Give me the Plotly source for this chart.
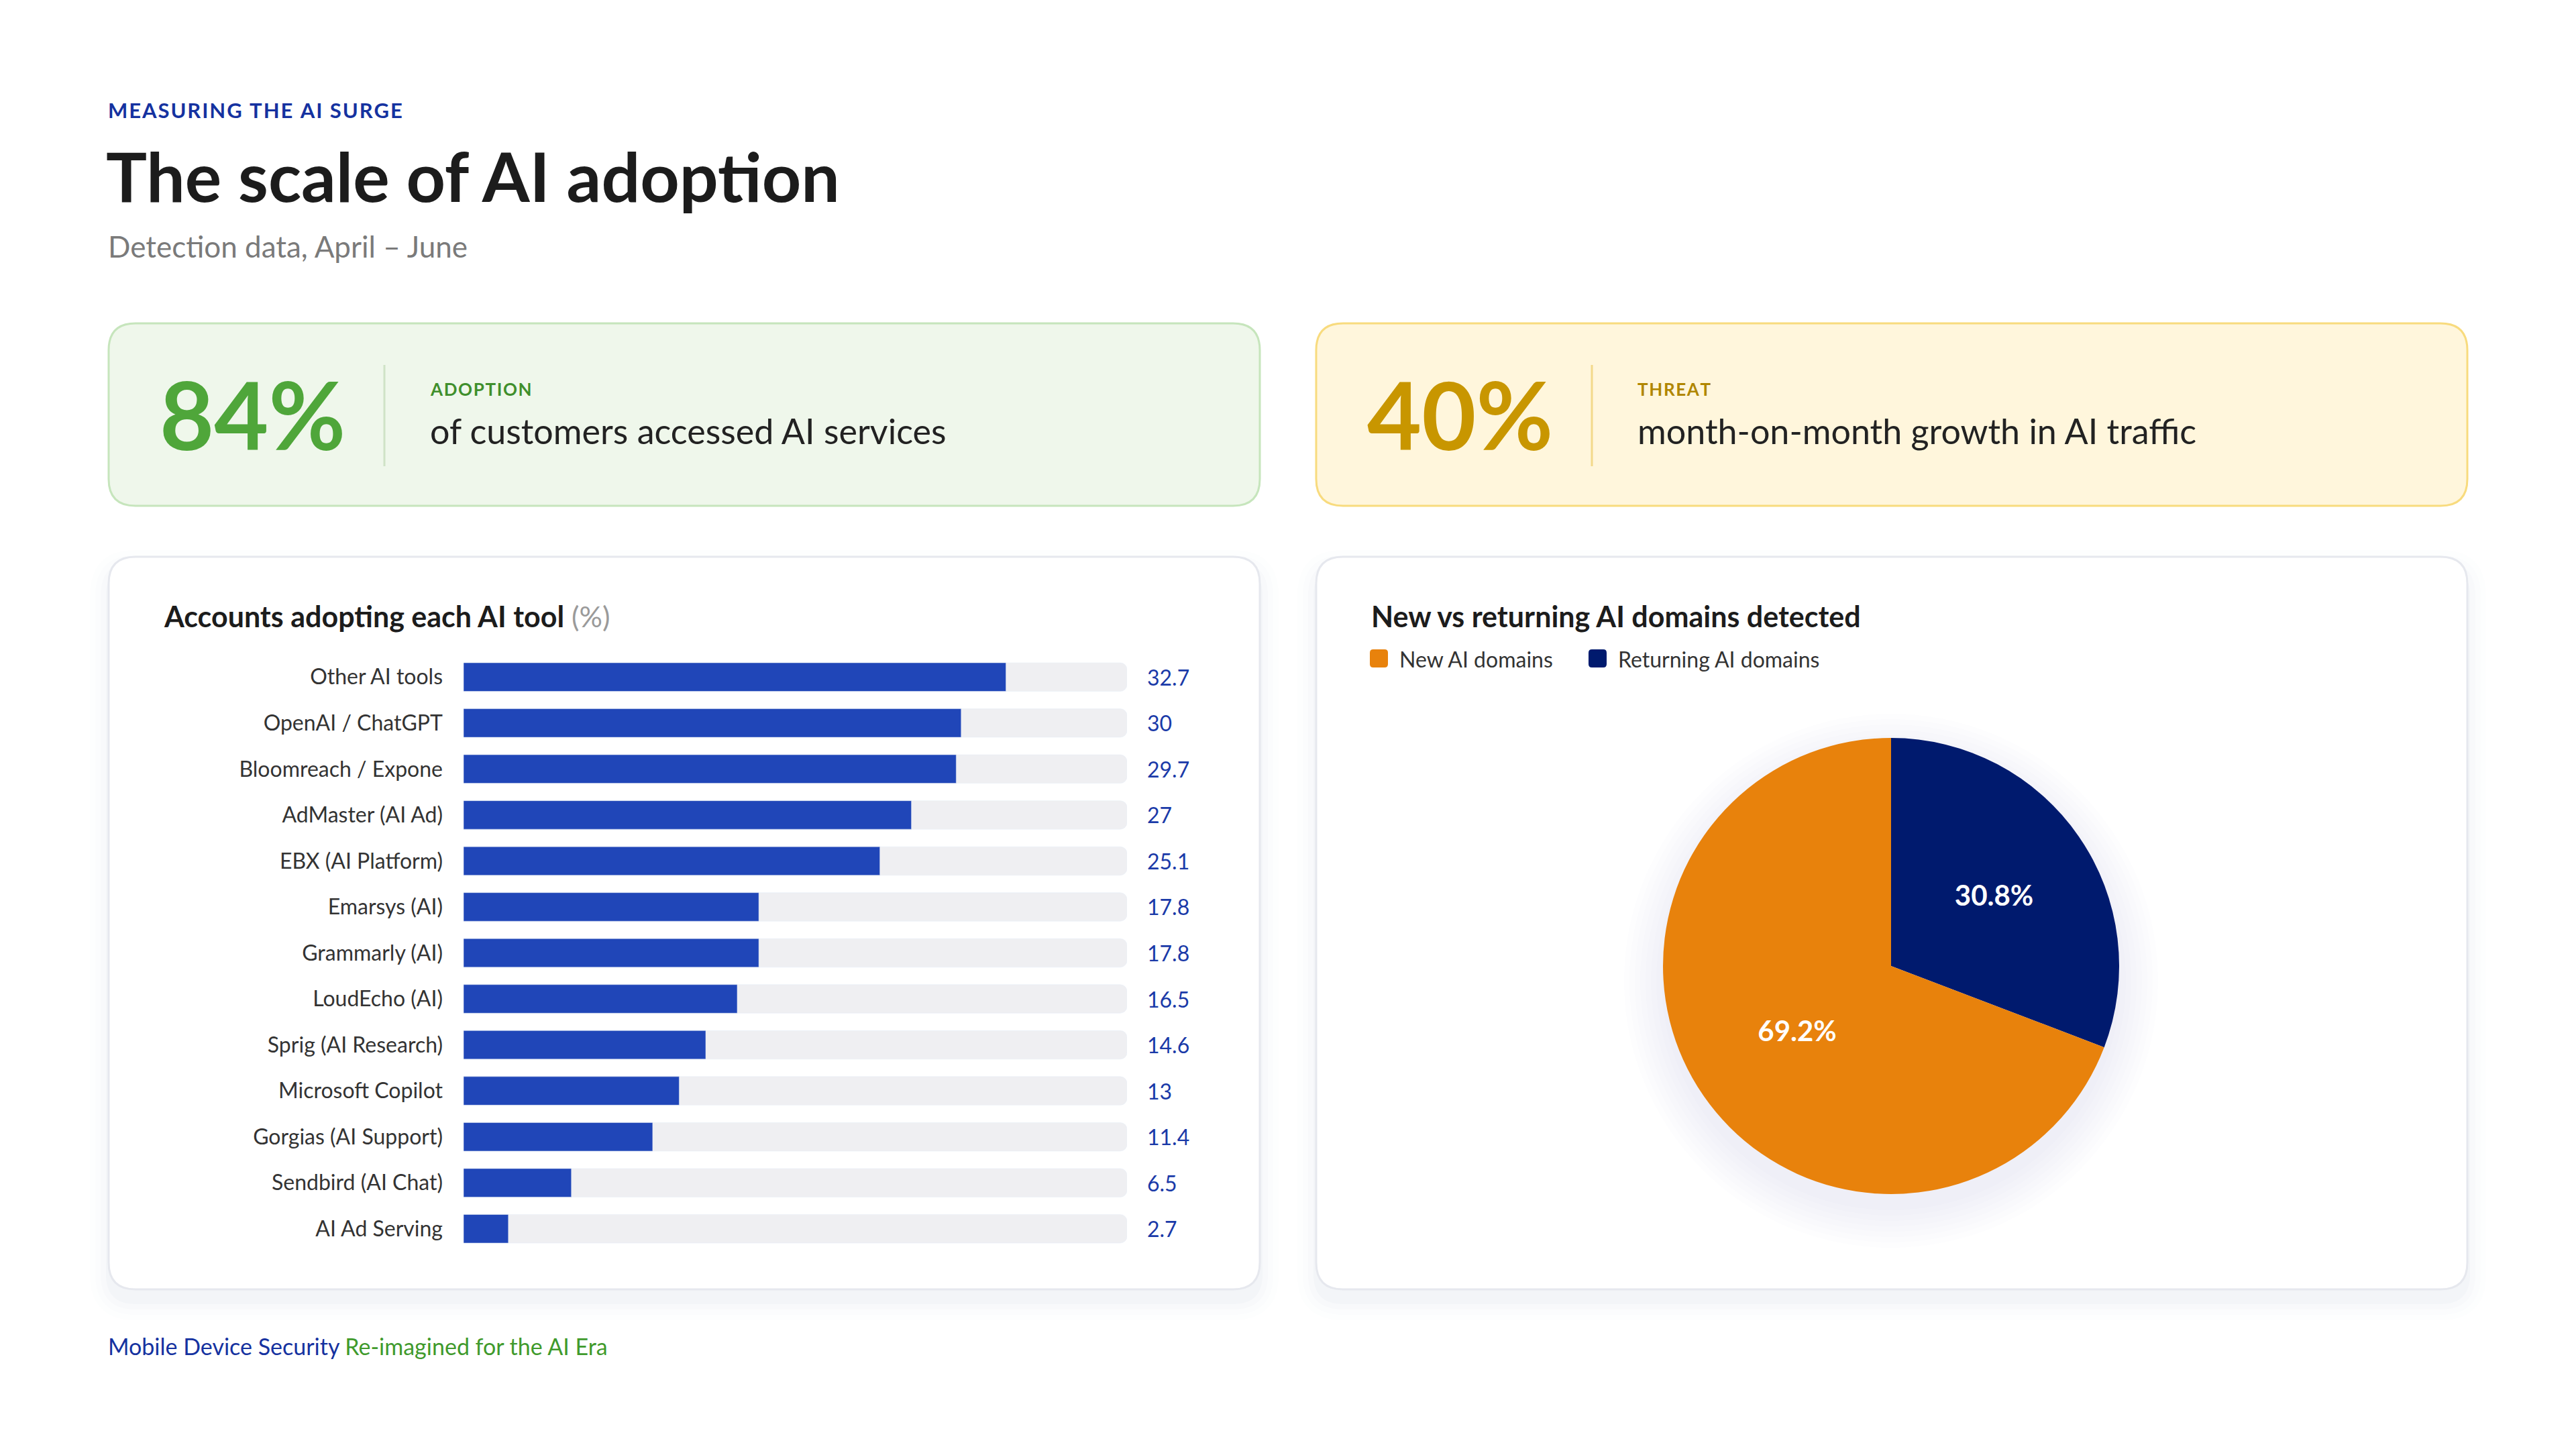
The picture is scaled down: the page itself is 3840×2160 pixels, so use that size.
import plotly.graph_objects as go

W, H = 3840, 2160
OFF = 8  # the page body adds an 8px margin, pull everything back by that much
FONT = "Lato"

# Bar chart data
TOOLS = [
    "Other AI tools",
    "OpenAI / ChatGPT",
    "Bloomreach / Expone",
    "AdMaster (AI Ad)",
    "EBX (AI Platform)",
    "Emarsys (AI)",
    "Grammarly (AI)",
    "LoudEcho (AI)",
    "Sprig (AI Research)",
    "Microsoft Copilot",
    "Gorgias (AI Support)",
    "Sendbird (AI Chat)",
    "AI Ad Serving",
]
ADOPTION = [32.7, 30, 29.7, 27, 25.1, 17.8, 17.8, 16.5, 14.6, 13, 11.4, 6.5, 2.7]
AXIS_MAX = 40

# Pie data
DOMAIN_LABELS = ["New AI domains", "Returning AI domains"]
DOMAIN_SHARE = [69.2, 30.8]
DOMAIN_COLORS = ["#e8820c", "#001a6e"]

# KPI cards
KPI_VALUES = ["84%", "40%"]
KPI_TAGS = ["ADOPTION", "THREAT"]
KPI_TEXT = ["of customers accessed AI services", "month-on-month growth in AI traffic"]


def px(x):
    return (x - OFF) / W


def py(y):
    return 1 - (y - OFF) / H


def rrect(x0, y0, x1, y1, r):
    # rounded rectangle as an svg path in paper coords
    pts = [
        ("M", (x0 + r, y0)), ("L", (x1 - r, y0)), ("Q", (x1, y0), (x1, y0 + r)),
        ("L", (x1, y1 - r)), ("Q", (x1, y1), (x1 - r, y1)),
        ("L", (x0 + r, y1)), ("Q", (x0, y1), (x0, y1 - r)),
        ("L", (x0, y0 + r)), ("Q", (x0, y0), (x0 + r, y0)),
    ]
    out = ""
    for seg in pts:
        out += seg[0] + " ".join(f"{px(p[0]):.5f},{py(p[1]):.5f}" for p in seg[1:]) + " "
    return out + "Z"


def spaced(s):
    return "\u200a".join(s)


shapes = []
annotations = []


def card(x0, y0, x1, y1, fill, line, shadow=False):
    if shadow:
        for i, op in enumerate([0.022, 0.016, 0.012, 0.008]):
            d = 4 + i * 8
            shapes.append(dict(type="path", xref="paper", yref="paper", layer="below",
                               path=rrect(x0 - d, y0 - d + 18, x1 + d, y1 + d + 18, 40 + d),
                               fillcolor=f"rgba(60,70,140,{op})", line_width=0))
    shapes.append(dict(type="path", xref="paper", yref="paper", layer="below",
                       path=rrect(x0, y0, x1, y1, 40), fillcolor=fill,
                       line=dict(color=line, width=3)))


def text(x, y, s, size, color, anchor="left", bold=False):
    annotations.append(dict(xref="paper", yref="paper", x=px(x), y=py(y), text=s,
                            showarrow=False, xanchor=anchor, yanchor="middle",
                            font=dict(family=FONT, size=size, color=color,
                                      weight="bold" if bold else "normal")))


# header
text(159, 164, spaced("MEASURING THE AI SURGE"), 31, "#1532a0", bold=True)
text(156, 262, "The scale of AI adoption", 102, "#1c1c1c", bold=True)
text(159, 367, "Detection data, April \u2013 June", 44, "#7a7a7a")

# KPI cards
kpi_style = [
    dict(x=162, fill="#eff7eb", line="#c6e5bc", num="#4fa63a", tag="#3f8f2c", div="#cfe3c6"),
    dict(x=1962, fill="#fff6dc", line="#f8db7e", num="#c89600", tag="#b08600", div="#f3d98a"),
]
for st, val, tag, desc in zip(kpi_style, KPI_VALUES, KPI_TAGS, KPI_TEXT):
    x0 = st["x"]
    card(x0, 482, x0 + 1716, 754, st["fill"], st["line"])
    text(x0 + 74, 617, val, 140, st["num"], bold=True)
    shapes.append(dict(type="line", xref="paper", yref="paper", x0=px(x0 + 411), x1=px(x0 + 411),
                       y0=py(544), y1=py(695), line=dict(color=st["div"], width=3)))
    text(x0 + 477, 580, spaced(tag), 26, st["tag"], bold=True)
    text(x0 + 477, 642, desc, 52, "#222222")

# chart cards
card(162, 830, 1878, 1922, "#ffffff", "#e6e8ee", shadow=True)
card(1962, 830, 3678, 1922, "#ffffff", "#e6e8ee", shadow=True)

text(242, 918, "<b>Accounts adopting each AI tool</b> <span style='color:#9a9a9a'>(%)</span>",
     43, "#1c1c1c")
text(2042, 918, "<b>New vs returning AI domains detected</b>", 43, "#1c1c1c")

# pie legend, drawn by hand so the swatches can be large
leg_x = [2042, 2368]
for lx, lab, col in zip(leg_x, DOMAIN_LABELS, DOMAIN_COLORS):
    shapes.append(dict(type="path", xref="paper", yref="paper",
                       path=rrect(lx, 968, lx + 27, 995, 5), fillcolor=col, line_width=0))
    text(lx + 42, 982, lab, 32, "#333333")

# soft glow under the pie
for i in range(8):
    r = 342 + i * 8
    cx, cy = 2819, 1462
    shapes.append(dict(type="circle", xref="paper", yref="paper", layer="below",
                       x0=px(cx - r), x1=px(cx + r), y0=py(cy + r), y1=py(cy - r),
                       fillcolor="rgba(70,90,180,0.012)", line_width=0))

# footer
text(159, 2006, "<span style='color:#1532a0'>Mobile Device Security</span> "
     "<span style='color:#3f9a2c'>Re-imagined for the AI Era</span>", 34, "#1532a0")

fig = go.Figure()

# track bars
fig.add_trace(go.Bar(
    x=[AXIS_MAX] * len(TOOLS), y=TOOLS, orientation="h",
    marker=dict(color="#efeff2", cornerradius=10), width=0.62,
    hoverinfo="skip", showlegend=False, xaxis="x", yaxis="y",
))
fig.add_trace(go.Bar(
    x=ADOPTION, y=TOOLS, orientation="h",
    marker=dict(color="#2046b8", cornerradius=10), width=0.62,
    showlegend=False, xaxis="x", yaxis="y",
))

for tool, v in zip(TOOLS, ADOPTION):
    annotations.append(dict(xref="x", yref="y", x=AXIS_MAX, y=tool, text=f"{v:g}",
                            showarrow=False, xanchor="left", xshift=28,
                            font=dict(family=FONT, size=32, color="#1a3aa8")))

# returning slice goes first so it sits clockwise from 12 o'clock
fig.add_trace(go.Pie(
    labels=DOMAIN_LABELS[::-1], values=DOMAIN_SHARE[::-1], sort=False,
    direction="clockwise", rotation=0,
    marker=dict(colors=DOMAIN_COLORS[::-1], line=dict(width=0)),
    texttemplate="%{value}%", textposition="inside",
    insidetextfont=dict(family=FONT, size=42, color="#ffffff", weight="bold"),
    domain=dict(x=[px(2479), px(3159)], y=[py(1780), py(1100)]),
    showlegend=False, hoverinfo="label+percent",
))

fig.update_layout(
    width=W, height=H,
    margin=dict(l=0, r=0, t=0, b=0),
    paper_bgcolor="#ffffff", plot_bgcolor="rgba(0,0,0,0)",
    barmode="overlay", bargap=0.38,
    font=dict(family=FONT, size=32, color="#333333"),
    shapes=shapes, annotations=annotations,
    xaxis=dict(domain=[px(691), px(1680)], range=[0, AXIS_MAX], visible=False, fixedrange=True),
    yaxis=dict(domain=[py(1866), py(975)], autorange="reversed", showgrid=False,
               zeroline=False, showline=False, ticks="", ticklabelstandoff=30,
               tickfont=dict(family=FONT, size=32, color="#333333"), fixedrange=True),
)

fig.write_html("out.html")
